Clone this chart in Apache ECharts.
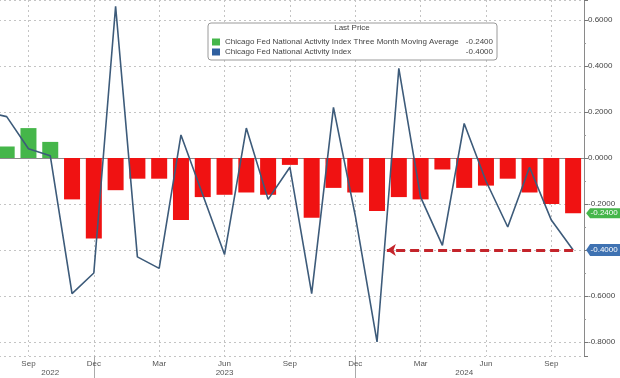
<!DOCTYPE html>
<html>
<head>
<meta charset="utf-8">
<script src="https://cdn.jsdelivr.net/npm/echarts@6/dist/echarts.min.js"></script>
<style>
  html, body { margin: 0; padding: 0; background: #fff; }
  #chart { width: 620px; height: 378px; }
</style>
</head>
<body>
<div id="chart"></div>
<script>
// months shown (Jul 2022 is mostly off the left edge)
var months = ['Jul 2022','Aug 2022','Sep 2022','Oct 2022','Nov 2022','Dec 2022',
  'Jan 2023','Feb 2023','Mar 2023','Apr 2023','May 2023','Jun 2023','Jul 2023','Aug 2023',
  'Sep 2023','Oct 2023','Nov 2023','Dec 2023','Jan 2024','Feb 2024','Mar 2024','Apr 2024',
  'May 2024','Jun 2024','Jul 2024','Aug 2024','Sep 2024','Oct 2024'];

// CFNAI three month moving average (bars)
var ma3 = [null, 0.05, 0.13, 0.07, -0.18, -0.35, -0.14, -0.09, -0.09, -0.27, -0.17, -0.16,
  -0.15, -0.16, -0.03, -0.26, -0.13, -0.15, -0.23, -0.17, -0.18, -0.05, -0.13, -0.12,
  -0.09, -0.15, -0.20, -0.24];

// CFNAI monthly (line)
var cfnai = [0.20, 0.18, 0.04, 0.01, -0.59, -0.50, 0.66, -0.43, -0.48, 0.10, -0.16, -0.42,
  0.13, -0.18, -0.04, -0.59, 0.22, -0.25, -0.80, 0.39, -0.17, -0.38, 0.15, -0.10,
  -0.30, -0.04, -0.27, -0.40];

var yearLabels = { 3: '2022', 11: '2023', 22: '2024' };
var yearBreaks = [5, 17];

var maName = 'Chicago Fed National Activity Index Three Month Moving Average';
var idxName = 'Chicago Fed National Activity Index';
var lastVals = {};
lastVals[maName] = ma3[ma3.length - 1];
lastVals[idxName] = cfnai[cfnai.length - 1];

// dashed arrow annotation (category index units)
var arrowFrom = months.length - 1;
var arrowTo = 18.45;

var fontFam = '"Liberation Sans", Arial, sans-serif';
var green = '#45b64a';
var red = '#f01212';
var lineCol = '#3d5b7a';
var tagBlue = '#3f72b2';

var chart = echarts.init(document.getElementById('chart'));

var tagPath = 'path://M0,5 L4,0 L36,0 L36,10 L4,10 Z';

var option = {
  animation: false,
  backgroundColor: '#fff',
  textStyle: { fontFamily: fontFam },
  grid: { left: -26, right: 36, top: 0, bottom: 22, containLabel: false, outerBoundsMode: 'none' },
  graphic: [{
    type: 'text', x: 352, y: 28, z: 10,
    style: { text: 'Last Price', fill: '#444', font: '8px ' + fontFam, textAlign: 'center', textVerticalAlign: 'middle' }
  }],
  legend: {
    orient: 'vertical', left: 208, top: 23,
    padding: [15, 4, 4, 4], itemGap: 2, itemWidth: 8, itemHeight: 7,
    backgroundColor: '#fff', borderColor: '#9a9a9a', borderWidth: 1, borderRadius: 3,
    selectedMode: false,
    data: [
      { name: maName, icon: 'rect', itemStyle: { color: green } },
      { name: idxName, icon: 'rect', itemStyle: { color: '#2f5f9f' } }
    ],
    formatter: function (name) {
      return '{n|' + name + '}{v|' + lastVals[name].toFixed(4) + '}';
    },
    textStyle: {
      fontSize: 8, color: '#444',
      rich: {
        n: { width: 230, fontSize: 8, color: '#444' },
        v: { width: 38, align: 'right', fontSize: 8, color: '#444' }
      }
    }
  },
  xAxis: [{
    type: 'category', data: months, boundaryGap: true,
    axisLine: { lineStyle: { color: '#8a8a8a', width: 1 } },
    axisTick: { alignWithLabel: true, interval: 0, length: 3, lineStyle: { color: '#8a8a8a' } },
    axisLabel: {
      interval: function (i) { return i % 3 === 2; },
      formatter: function (v) { return v.split(' ')[0]; },
      fontSize: 8, color: '#555', margin: 4
    },
    splitLine: {
      show: true, alignWithLabel: true,
      interval: function (i) { return i % 3 === 2; },
      lineStyle: { color: '#c4c4c4', type: [2, 3] }
    }
  }, {
    type: 'category', data: months, position: 'bottom',
    axisLine: { show: false },
    axisTick: {
      show: true, alignWithLabel: true, length: 22,
      interval: function (i) { return yearBreaks.indexOf(i) >= 0; },
      lineStyle: { color: '#aaa' }
    },
    axisLabel: {
      interval: function (i) { return yearLabels[i] !== undefined; },
      formatter: function (v, i) { return yearLabels[i] || ''; },
      fontSize: 8, color: '#555', margin: 13
    },
    splitLine: { show: false }
  }, {
    type: 'value', min: -0.5, max: months.length - 0.5, show: false
  }],
  yAxis: {
    type: 'value', position: 'right',
    min: -0.861, max: 0.687, splitNumber: 8,
    axisLine: { show: true, onZero: false, lineStyle: { color: '#8a8a8a' } },
    axisTick: { show: true, length: 4, lineStyle: { color: '#777' } },
    minorTick: { show: true, splitNumber: 2, length: 2, lineStyle: { color: '#999' } },
    axisLabel: {
      showMinLabel: false, showMaxLabel: false,
      formatter: function (v) { return v.toFixed(4); },
      fontSize: 8, color: '#444', margin: 4
    },
    splitLine: { show: true, lineStyle: { color: '#c4c4c4', type: [2, 3] } }
  },
  series: [{
    name: maName, type: 'bar', barWidth: 16,
    itemStyle: { color: green },
    data: ma3.map(function (v) {
      return { value: v, itemStyle: { color: v >= 0 ? green : red } };
    }),
    markPoint: {
      symbol: tagPath, symbolSize: [36, 10], symbolKeepAspect: false, symbolOffset: [31, 0],
      itemStyle: { color: green },
      label: { show: true, position: 'inside', color: '#fff', fontSize: 8,
        formatter: function (p) { return p.value.toFixed(4); } },
      data: [{ coord: [months[months.length - 1], lastVals[maName]], value: lastVals[maName] }]
    }
  }, {
    name: idxName, type: 'line', data: cfnai,
    symbol: 'none', lineStyle: { color: lineCol, width: 1.6 }, itemStyle: { color: lineCol },
    z: 3,
    markPoint: {
      symbol: tagPath, symbolSize: [36, 12], symbolKeepAspect: false, symbolOffset: [31, 0],
      itemStyle: { color: tagBlue },
      label: { show: true, position: 'inside', color: '#fff', fontSize: 8,
        formatter: function (p) { return p.value.toFixed(4); } },
      data: [{ coord: [months[months.length - 1], lastVals[idxName]], value: lastVals[idxName] }]
    }
  }, {
    name: 'arrow', type: 'line', xAxisIndex: 2, data: [], silent: true, z: 4,
    markLine: {
      silent: true, symbol: ['none', 'arrow'], symbolSize: 9,
      label: { show: false },
      lineStyle: { color: '#c4242b', width: 3, type: [9, 5] },
      data: [[{ coord: [arrowFrom, lastVals[idxName]] }, { coord: [arrowTo, lastVals[idxName]] }]]
    }
  }]
};

chart.setOption(option);
</script>
</body>
</html>
